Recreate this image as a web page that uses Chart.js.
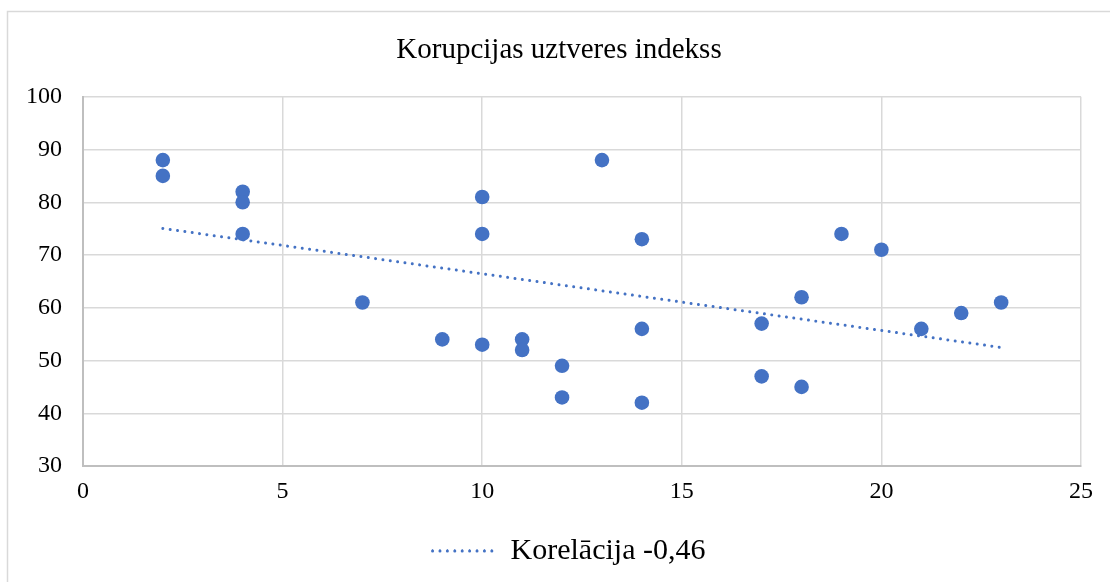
<!DOCTYPE html>
<html>
<head>
<meta charset="utf-8">
<script src="https://cdn.jsdelivr.net/npm/chart.js@4.4.0/dist/chart.umd.min.js"></script>
<style>
  html, body { margin: 0; padding: 0; background: #fff; }
  #wrap { width: 1110px; height: 582px; }
</style>
</head>
<body>
<div id="wrap"><canvas id="grafico" width="1110" height="582"></canvas></div>
<script>
// dati no attēla
const vietas = [2, 2, 4, 4, 4, 7, 9, 10, 10, 10, 11, 11, 12, 12, 13, 14, 14, 14, 17, 17, 18, 18, 19, 20, 21, 22, 23];
const indekss = [88, 85, 82, 80, 74, 61, 54, 81, 74, 53, 54, 52, 49, 43, 88, 73, 56, 42, 57, 47, 62, 45, 74, 71, 56, 59, 61];
const xTicks = [0, 5, 10, 15, 20, 25];
const yTicks = [30, 40, 50, 60, 70, 80, 90, 100];
const virsraksts = 'Korupcijas uztveres indekss';
const trendNosaukums = 'Korelācija -0,46';

const zils = '#4472C4';
const serif = "'Liberation Serif', 'Times New Roman', serif";

// lineārā regresija trenda līnijai
function trends(xs, ys) {
  const n = xs.length;
  const mx = xs.reduce((a, b) => a + b, 0) / n;
  const my = ys.reduce((a, b) => a + b, 0) / n;
  let sxy = 0, sxx = 0;
  for (let i = 0; i < n; i++) {
    sxy += (xs[i] - mx) * (ys[i] - my);
    sxx += (xs[i] - mx) * (xs[i] - mx);
  }
  const k = sxy / sxx;
  const b = my - k * mx;
  const x0 = Math.min(...xs), x1 = Math.max(...xs);
  return [{ x: x0, y: k * x0 + b }, { x: x1, y: k * x1 + b }];
}

const punkti = vietas.map((v, i) => ({ x: v, y: indekss[i] }));

// rāmis ap diagrammu (labā un apakšējā mala ārpus kadra)
const ramis = {
  id: 'ramis',
  afterLayout(chart) {
    // virsraksts un leģenda Excel stilā centrēti pēc visa rāmja
    chart.titleBlock.left += 37;
    chart.legend.left += 57;
  },
  beforeDraw(chart) {
    const c = chart.ctx;
    c.save();
    c.fillStyle = '#fff';
    c.fillRect(0, 0, chart.width, chart.height);
    c.strokeStyle = '#d9d9d9';
    c.lineWidth = 1.5;
    c.strokeRect(7.5, 11.5, 1200, 700);
    c.restore();
  }
};

new Chart(document.getElementById('grafico'), {
  type: 'scatter',
  data: {
    datasets: [
      {
        label: trendNosaukums,
        data: trends(vietas, indekss),
        showLine: true,
        borderColor: zils,
        backgroundColor: zils,
        borderWidth: 3,
        borderDash: [0.01, 7.4],
        borderCapStyle: 'round',
        pointRadius: 0,
        fill: false
      },
      {
        label: 'dati',
        data: punkti,
        backgroundColor: zils,
        borderColor: zils,
        borderWidth: 0,
        pointRadius: 7.3,
        pointHoverRadius: 7.3
      }
    ]
  },
  options: {
    responsive: false,
    animation: false,
    events: [],
    layout: { padding: { left: 0, right: 29, top: 0, bottom: 6 } },
    plugins: {
      title: {
        display: true,
        text: virsraksts,
        color: '#000',
        font: { family: serif, size: 29, weight: 'normal' },
        padding: { top: 33, bottom: 29 }
      },
      legend: {
        position: 'bottom',
        labels: {
          filter: (it) => it.datasetIndex === 0,
          color: '#000',
          font: { family: serif, size: 30 },
          boxWidth: 63,
          boxHeight: 0,
          padding: 10
        }
      },
      tooltip: { enabled: false }
    },
    scales: {
      x: {
        type: 'linear',
        min: 0,
        max: 25,
        afterBuildTicks: (s) => { s.ticks = xTicks.map(v => ({ value: v })); },
        afterFit: (s) => { s.height = 60; },
        grid: { color: '#d9d9d9', lineWidth: 1.5, drawTicks: false },
        border: { color: '#bfbfbf', width: 2 },
        ticks: { color: '#000', font: { family: serif, size: 24 }, padding: 11 }
      },
      y: {
        type: 'linear',
        min: 30,
        max: 100,
        afterBuildTicks: (s) => { s.ticks = yTicks.map(v => ({ value: v })); },
        afterFit: (s) => { s.width = 83; },
        grid: { color: '#d9d9d9', lineWidth: 1.5, drawTicks: false },
        border: { color: '#bfbfbf', width: 2 },
        ticks: { color: '#000', font: { family: serif, size: 24 }, padding: 21 }
      }
    }
  },
  plugins: [ramis]
});
</script>
</body>
</html>
